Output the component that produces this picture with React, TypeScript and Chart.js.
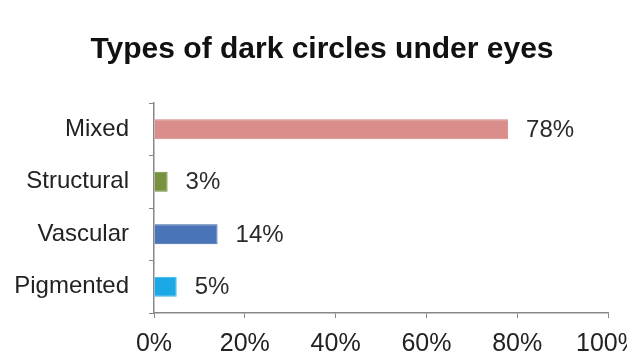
import React, { useEffect, useRef } from "react";
import { Chart, registerables } from "chart.js";

Chart.register(...registerables);

const title = "Types of dark circles under eyes";
const categories = ["Mixed", "Structural", "Vascular", "Pigmented"];
const values = [78, 3, 14, 5];
const barColors = ["#d98e8c", "#77913e", "#4a74b8", "#1ba8e6"];
const borderColors = ["#d4878a", "#6f8a3a", "#3d66a8", "#35b4ea"];
const xTicks = [0, 20, 40, 60, 80, 100];

const FONT = '"Liberation Sans", Arial, sans-serif';

export default function App() {
  const ref = useRef<HTMLCanvasElement | null>(null);

  useEffect(() => {
    if (!ref.current) return;

    const titlePlugin = {
      id: "customTitle",
      afterDraw(chart: any) {
        const ctx = chart.ctx;
        ctx.save();
        ctx.font = `bold 30px ${FONT}`;
        ctx.fillStyle = "#111";
        ctx.textAlign = "center";
        ctx.textBaseline = "alphabetic";
        ctx.fillText(title, 322, 58);
        ctx.restore();
      },
    };

    const valueLabels = {
      id: "valueLabels",
      afterDatasetsDraw(chart: any) {
        const ctx = chart.ctx;
        const meta = chart.getDatasetMeta(0);
        ctx.save();
        ctx.font = `24px ${FONT}`;
        ctx.fillStyle = "#2a2a2a";
        ctx.textAlign = "left";
        ctx.textBaseline = "middle";
        meta.data.forEach((el: any, i: number) => {
          ctx.fillText(values[i] + "%", el.x + 18, el.y + 1);
        });
        ctx.restore();
      },
    };

    const chart = new Chart(ref.current, {
      type: "bar",
      data: {
        labels: categories,
        datasets: [
          {
            data: values,
            backgroundColor: barColors,
            borderColor: borderColors,
            borderWidth: 1,
            barPercentage: 0.38,
            categoryPercentage: 1,
          },
        ],
      },
      options: {
        indexAxis: "y",
        animation: false,
        responsive: true,
        maintainAspectRatio: false,
        layout: {
          autoPadding: false,
          padding: { top: 103, right: 19, left: 0, bottom: 0 },
        },
        plugins: {
          legend: { display: false },
          title: { display: false },
          tooltip: { enabled: false },
        },
        scales: {
          x: {
            type: "linear",
            min: 0,
            max: 100,
            afterFit(scale: any) {
              scale.height = 45;
              scale.paddingLeft = 0;
              scale.paddingRight = 0;
            },
            afterBuildTicks(scale: any) {
              scale.ticks = xTicks.map((v) => ({ value: v }));
            },
            ticks: {
              callback: (v: any) => v + "%",
              font: { family: FONT, size: 25 },
              color: "#222",
              padding: 11,
              maxRotation: 0,
              autoSkip: false,
            },
            grid: {
              drawOnChartArea: false,
              tickLength: 5,
              color: "#888",
            },
            border: { color: "#888", width: 1.5 },
          },
          y: {
            type: "category",
            offset: true,
            afterFit(scale: any) {
              scale.width = 154;
              scale.paddingTop = 0;
              scale.paddingBottom = 0;
            },
            ticks: {
              font: { family: FONT, size: 24 },
              color: "#222",
              padding: 20,
            },
            grid: {
              offset: true,
              drawOnChartArea: false,
              tickLength: 5,
              color: "#888",
            },
            border: { color: "#888", width: 1.5 },
          },
        },
      },
      plugins: [titlePlugin, valueLabels],
    });

    return () => chart.destroy();
  }, []);

  return (
    <div
      style={{
        position: "fixed",
        left: 0,
        top: 0,
        width: 627,
        height: 358,
        background: "#fff",
      }}
    >
      <canvas ref={ref} />
    </div>
  );
}
